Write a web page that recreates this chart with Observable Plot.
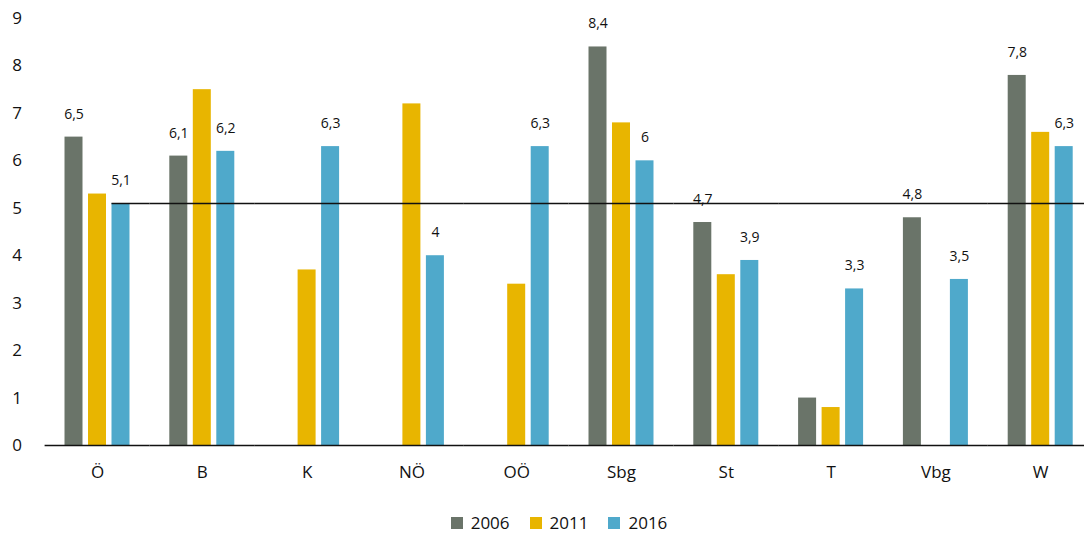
<!DOCTYPE html>
<html>
<head>
<meta charset="utf-8">
<script src="https://cdn.jsdelivr.net/npm/d3@7"></script>
<script src="https://cdn.jsdelivr.net/npm/@observablehq/plot@0.6"></script>
<style>
  html, body { margin: 0; padding: 0; background: #fff; }
  body { width: 1084px; height: 535px; overflow: hidden; font-family: "Open Sans", "Noto Sans", sans-serif; }
  #chart svg { display: block; }
  #legend { display: flex; justify-content: center; gap: 20px; margin-top: 20px; padding-left: 34px; font-size: 17px; line-height: 16px; color: #111; }
  #legend .item { display: flex; align-items: center; gap: 8px; }
  #legend .sw { width: 12px; height: 12px; display: inline-block; }
</style>
</head>
<body>
<div id="chart"></div>
<div id="legend"></div>
<script>
// Regions (Bundesländer) and survey years
const regions = ["Ö", "B", "K", "NÖ", "OÖ", "Sbg", "St", "T", "Vbg", "W"];
const years = ["2006", "2011", "2016"];
const colors = ["#6a7469", "#e8b500", "#4fa9cb"];

// Values per year (null = no value)
const values2006 = [6.5, 6.1, null, null, null, 8.4, 4.7, 1.0, 4.8, 7.8];
const values2011 = [5.3, 7.5, 3.7, 7.2, 3.4, 6.8, 3.6, 0.8, null, 6.6];
const values2016 = [5.1, 6.2, 6.3, 4.0, 6.3, 6.0, 3.9, 3.3, 3.5, 6.3];

// Which bars carry a value label (per year, per region)
const labels2006 = [true, true, false, false, false, true, true, false, true, true];
const labels2011 = [false, false, false, false, false, false, false, false, false, false];
const labels2016 = [true, true, true, true, true, true, true, true, true, true];

const series = [values2006, values2011, values2016];
const labelFlags = [labels2006, labels2011, labels2016];
const rows = [];
regions.forEach((r, i) => {
  years.forEach((y, j) => {
    const v = series[j][i];
    if (v != null) rows.push({region: r, year: y, value: v, labelled: labelFlags[j][i]});
  });
});

const fmt = v => String(v).replace(".", ",");
const austria2016 = rows.filter(d => d.region === "Ö" && d.year === "2016");
const refValue = austria2016[0].value;
const lineStyle = {stroke: "#111", strokeWidth: 1.5};

function makeChart(tailInset) {
  return Plot.plot({
    width: 1084,
    height: 495,
    marginTop: 18,
    marginBottom: 50,
    marginLeft: 45,
    marginRight: 0,
    style: {fontFamily: "'Open Sans', 'Noto Sans', sans-serif", color: "#111", background: "#fff"},
    // the last group runs a little past the right edge of the frame
    fx: {domain: regions, padding: 0, range: [44.6, 1092.6], round: false, label: null},
    x: {domain: years, paddingInner: 0.234, paddingOuter: 0.847, round: false, axis: null},
    y: {domain: [0, 9], label: null},
    color: {domain: years, range: colors},
    marks: [
      Plot.axisY({ticks: d3.range(0, 10), tickSize: 0, tickPadding: 23, fontSize: 17, label: null, tickFormat: d => String(d)}),
      Plot.axisFx({anchor: "bottom", tickSize: 0, tickPadding: 20, fontSize: 17, label: null}),
      Plot.barY(rows, {fx: "region", x: "year", y: "value", fill: "year"}),
      Plot.text(rows.filter(d => d.labelled), {
        fx: "region", x: "year", y: "value", text: d => fmt(d.value),
        dy: -23, fontSize: 14, fill: "#111"
      }),
      Plot.ruleY([0], lineStyle),
      // Reference line at the Austria 2016 value, starting at that bar
      Plot.ruleY(austria2016, {fx: "region", x1: "year", x2: "year", y: "value", insetRight: tailInset, ...lineStyle}),
      Plot.ruleY(regions.slice(1), {fx: d => d, y: () => refValue, ...lineStyle})
    ]
  });
}

// First pass to read the within-group band scale, then extend the
// Austria line from its 2016 bar to the end of that group.
const probe = makeChart(0);
const xs = probe.scale("x");
const groupEnd = xs.range[1];
const barEnd = xs.apply("2016") + xs.bandwidth;
const chart = makeChart(-(groupEnd - barEnd));
document.getElementById("chart").appendChild(chart);

const legend = d3.select("#legend");
years.forEach((y, i) => {
  const item = legend.append("div").attr("class", "item");
  item.append("span").attr("class", "sw").style("background", colors[i]);
  item.append("span").text(y);
});
</script>
</body>
</html>
